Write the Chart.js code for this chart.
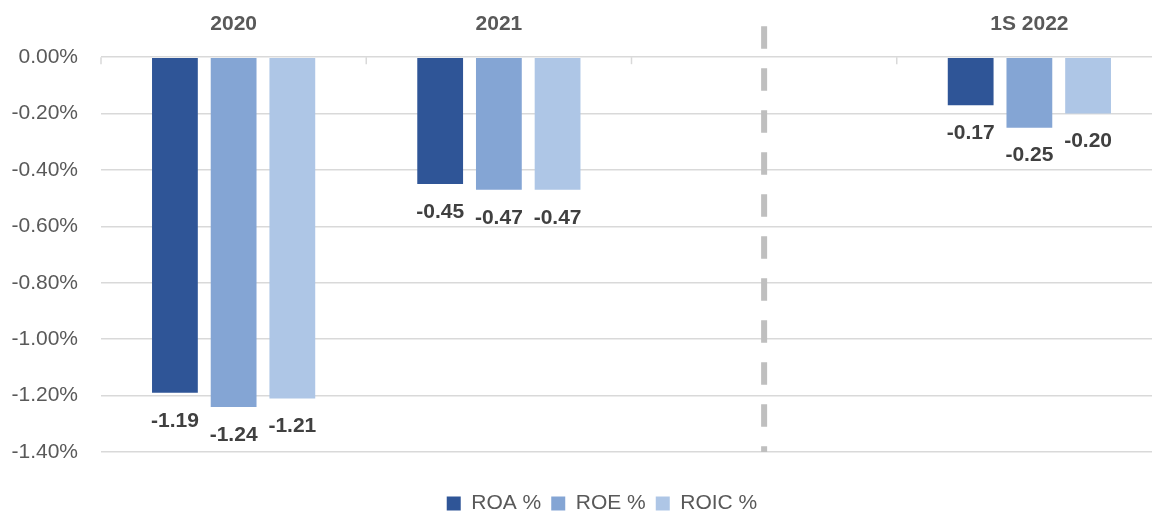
<!DOCTYPE html>
<html>
<head>
<meta charset="utf-8">
<script src="https://cdn.jsdelivr.net/npm/chart.js@4.4.0/dist/chart.umd.min.js"></script>
<style>
    html, body { margin: 0; padding: 0; background: #fff; overflow: hidden; }
    #wrap { width: 1164px; height: 511px; }
</style>
</head>
<body>
<div id="wrap"><canvas id="chart" width="1164" height="511"></canvas></div>
<script>
// Data
const categories = ['2020', '2021', '', '1S 2022'];
const roa = [-1.19, -0.45, null, -0.17];
const roe = [-1.24, -0.47, null, -0.25];
const roic = [-1.21, -0.47, null, -0.20];
const seriesNames = ['ROA %', 'ROE %', 'ROIC %'];
const seriesColors = ['#2F5597', '#84A5D4', '#AEC6E6'];
const dividerIndex = 2; // empty slot holding the dashed separator

const FONT = "'Liberation Sans', Arial, sans-serif";

// short tick marks hanging under the top axis
const insideTicks = {
    id: 'insideTicks',
    afterDraw(chart) {
        const x = chart.scales.x;
        const top = chart.chartArea.top;
        const ctx = chart.ctx;
        ctx.save();
        ctx.strokeStyle = '#d9d9d9';
        ctx.lineWidth = 1.5;
        for (let i = 0; i <= categories.length; i++) {
            const px = x.getPixelForValue(i - 0.5);
            ctx.beginPath();
            ctx.moveTo(px, top);
            ctx.lineTo(px, top + 7);
            ctx.stroke();
        }
        ctx.restore();
    }
};

// dashed grey separator between actuals and 1S 2022
const divider = {
    id: 'divider',
    afterDatasetsDraw(chart) {
        const px = chart.scales.x.getPixelForValue(dividerIndex);
        const ctx = chart.ctx;
        ctx.save();
        ctx.strokeStyle = '#bfbfbf';
        ctx.lineWidth = 6;
        ctx.setLineDash([22.5, 19.5]);
        ctx.beginPath();
        ctx.moveTo(px, chart.chartArea.top - 31);
        ctx.lineTo(px, chart.chartArea.bottom);
        ctx.stroke();
        ctx.restore();
    }
};

// value labels under each bar
const valueLabels = {
    id: 'valueLabels',
    afterDatasetsDraw(chart) {
        const ctx = chart.ctx;
        ctx.save();
        ctx.font = 'bold 21px ' + FONT;
        ctx.fillStyle = '#404040';
        ctx.textAlign = 'center';
        ctx.textBaseline = 'middle';
        chart.data.datasets.forEach((ds, di) => {
            chart.getDatasetMeta(di).data.forEach((bar, i) => {
                const v = ds.data[i];
                if (v === null) return;
                ctx.fillText(v.toFixed(2), bar.x, bar.y + 28);
            });
        });
        ctx.restore();
    }
};

// nudge the legend to where Excel put it (centred on the plot, near the bottom)
const legendShift = {
    id: 'legendShift',
    afterLayout(chart) {
        const lg = chart.legend;
        lg.left += 21; lg.right += 21;
        lg.top += 31; lg.bottom += 31;
    }
};

const datasets = [roa, roe, roic].map((data, i) => ({
    label: seriesNames[i],
    data,
    backgroundColor: seriesColors[i],
    borderWidth: 0,
    categoryPercentage: 0.664,
    barPercentage: 0.78,
}));

new Chart(document.getElementById('chart'), {
    type: 'bar',
    data: { labels: categories, datasets },
    options: {
        responsive: false,
        animation: false,
        layout: { padding: { top: -8, left: 0, right: 2, bottom: 18 } },
        plugins: {
            tooltip: { enabled: false },
            legend: {
                position: 'bottom',
                labels: {
                    boxWidth: 14,
                    boxHeight: 14,
                    padding: 10,
                    color: '#595959',
                    font: { family: FONT, size: 21 },
                },
            },
        },
        scales: {
            x: {
                position: 'top',
                grid: { display: false, drawTicks: false },
                border: { display: false },
                ticks: {
                    padding: 20,
                    color: '#595959',
                    font: { family: FONT, size: 21, weight: 'bold' },
                },
            },
            y: {
                min: -1.4,
                max: 0,
                afterFit(scale) { scale.width = 101; },
                grid: { color: '#d9d9d9', lineWidth: 1.5, drawTicks: false },
                border: { display: false },
                ticks: {
                    stepSize: 0.2,
                    padding: 23,
                    color: '#595959',
                    font: { family: FONT, size: 21 },
                    callback: v => (Math.abs(v) < 1e-9 ? 0 : v).toFixed(2) + '%',
                },
            },
        },
    },
    plugins: [insideTicks, divider, valueLabels, legendShift],
});
</script>
</body>
</html>
